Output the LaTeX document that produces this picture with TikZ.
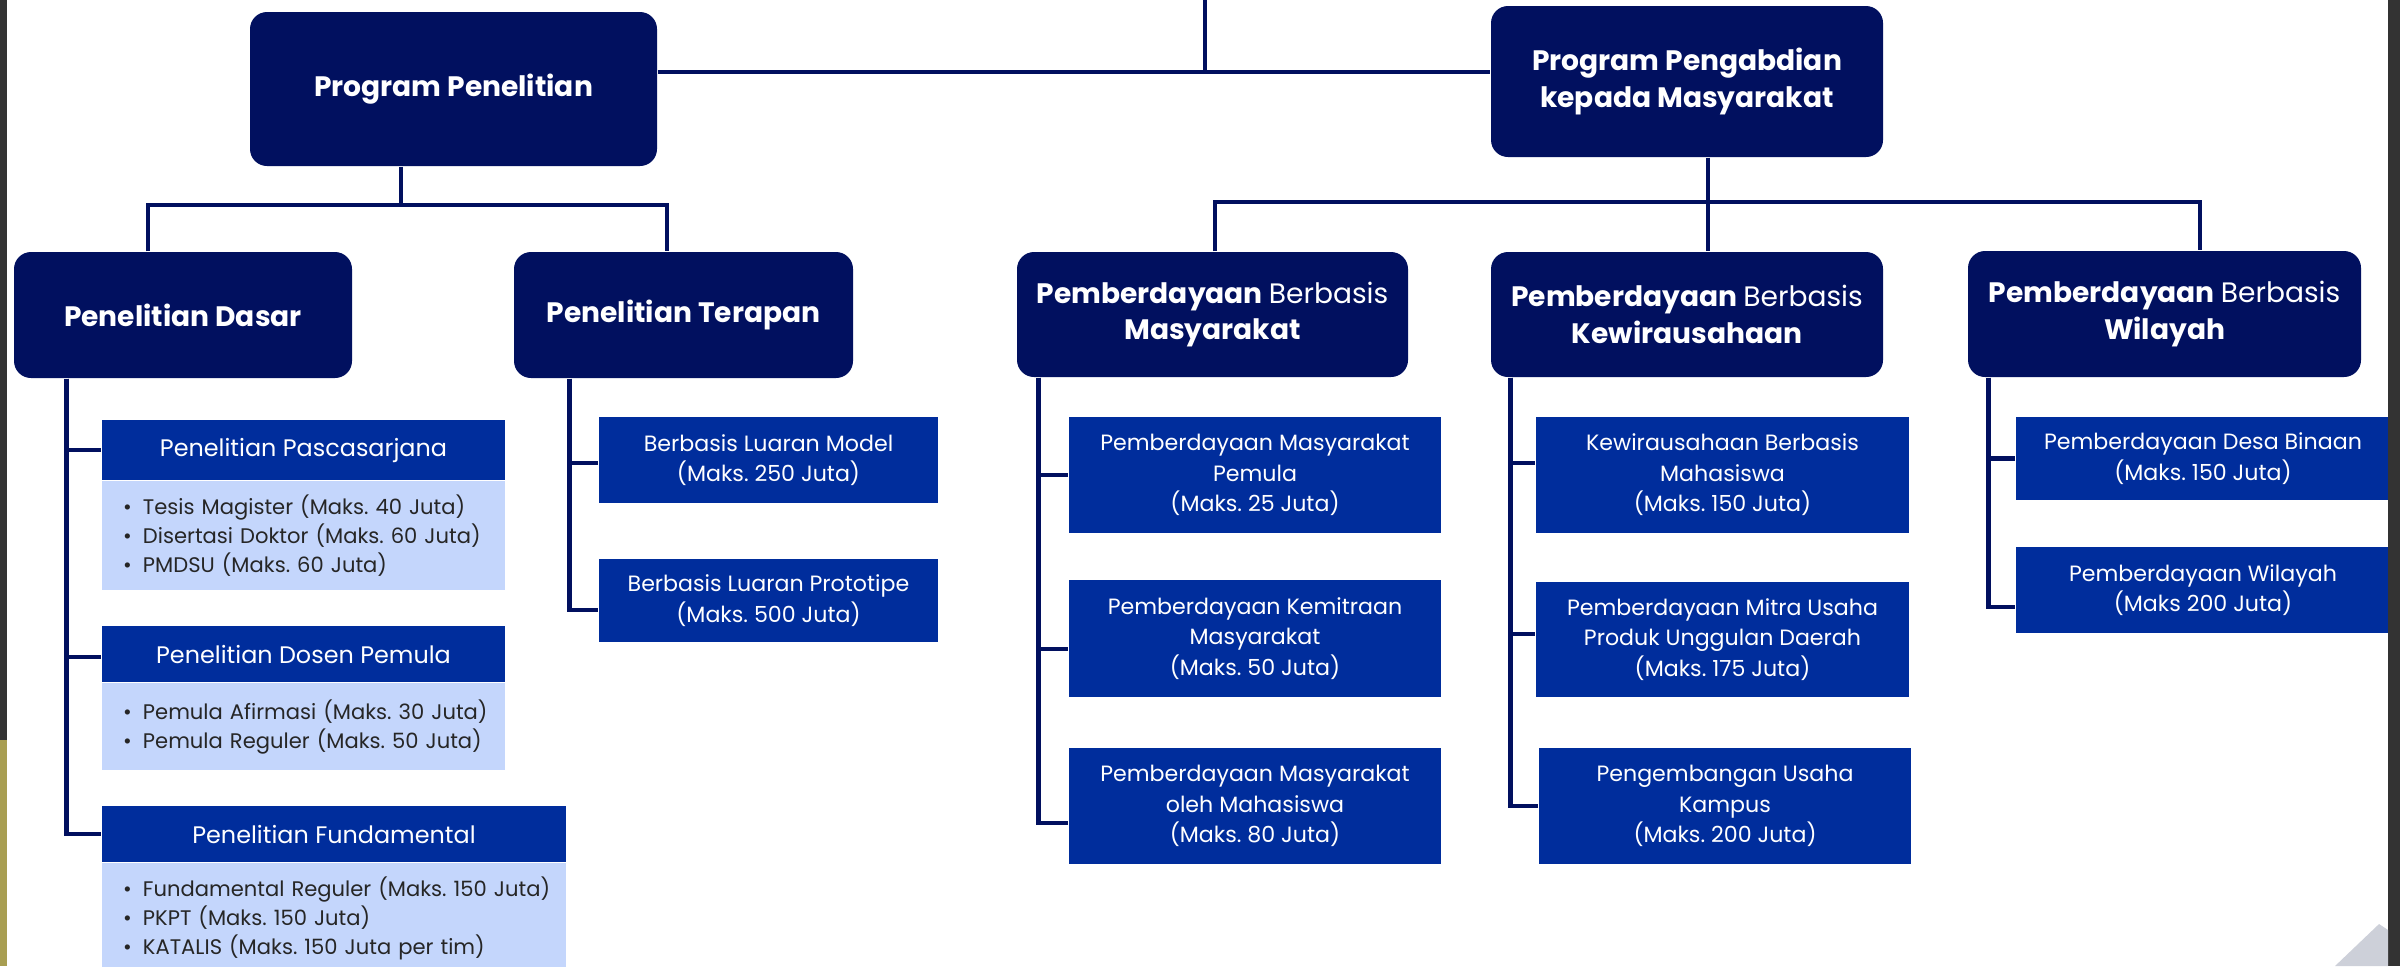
\documentclass[tikz,border=0pt]{standalone}
\usepackage{fontspec}
\setmainfont{Poppins}
\usetikzlibrary{positioning}

\definecolor{navy}{HTML}{01105F}
\definecolor{royal}{HTML}{002D9C}
\definecolor{pale}{HTML}{C4D6FC}
\definecolor{tepi}{HTML}{333333}
\definecolor{emas}{HTML}{A89E52}
\definecolor{abu}{HTML}{CDD0D9}

\frenchspacing
\newcommand{\butir}[1]{\mbox{\makebox[0.2cm][l]{\textbullet}#1}}

\begin{document}
\begin{tikzpicture}[
    every node/.style={inner sep=0pt}
  ]

  \tikzset{
    induk/.style={fill=navy, text=white, rounded corners=0.17cm, align=center, font=\fontsize{8}{10.5}\selectfont\bfseries},
    kotak/.style={fill=royal, text=white, align=center, font=\fontsize{6.3}{8.7}\selectfont},
    judul/.style={fill=royal, text=white, font=\fontsize{6.8}{8}\selectfont},
    isi/.style={fill=pale, text=black!85, align=left, inner xsep=0.21cm, font=\fontsize{6}{8.25}\selectfont},
    garis/.style={draw=navy, line width=1.3pt}
  }

  \useasboundingbox (0,0) rectangle (24,-9.66);

  % Program utama
  \node[induk, minimum width=4.07cm, minimum height=1.54cm] (PP) at (4.535,-0.89) {Program Penelitian};
  \node[induk, minimum width=3.92cm, minimum height=1.51cm] (PPkM) at (16.87,-0.815) {Program Pengabdian\\kepada Masyarakat};

  % Penelitian
  \node[induk, minimum width=3.38cm, minimum height=1.26cm] (PD) at (1.83,-3.15) {Penelitian Dasar};
  \node[induk, minimum width=3.39cm, minimum height=1.26cm] (PT) at (6.835,-3.15) {Penelitian Terapan};

  % Pengabdian
  \node[induk, minimum width=3.91cm, minimum height=1.25cm] (PBM) at (12.125,-3.145) {Pemberdayaan {\mdseries Berbasis}\\Masyarakat};
  \node[induk, minimum width=3.92cm, minimum height=1.25cm] (PBK) at (16.87,-3.145) {Pemberdayaan {\mdseries Berbasis}\\Kewirausahaan};
  \node[induk, minimum width=3.93cm, minimum height=1.26cm] (PBW) at (21.645,-3.14) {Pemberdayaan {\mdseries Berbasis}\\Wilayah};

  % Penelitian Dasar
  \node[judul, minimum width=4.03cm, minimum height=0.60cm] (pasca) at (3.035,-4.50) {Penelitian Pascasarjana};
  \node[isi, below=0pt of pasca, text width=3.61cm, minimum height=1.09cm] (pascaisi) {%
    \butir{Tesis Magister (Maks. 40 Juta)}\\
    \butir{Disertasi Doktor (Maks. 60 Juta)}\\
    \butir{PMDSU (Maks. 60 Juta)}};
  \node[judul, minimum width=4.03cm, minimum height=0.56cm] (dosen) at (3.035,-6.54) {Penelitian Dosen Pemula};
  \node[isi, below=0pt of dosen, text width=3.61cm, minimum height=0.87cm] (dosenisi) {%
    \butir{Pemula Afirmasi (Maks. 30 Juta)}\\
    \butir{Pemula Reguler (Maks. 50 Juta)}};
  \node[judul, minimum width=4.64cm, minimum height=0.56cm] (fund) at (3.34,-8.34) {Penelitian Fundamental};
  \node[isi, below=0pt of fund, text width=4.22cm, minimum height=1.09cm] (fundisi) {%
    \butir{Fundamental Reguler (Maks. 150 Juta)}\\
    \butir{PKPT (Maks. 150 Juta)}\\
    \butir{KATALIS (Maks. 150 Juta per tim)}};

  % Penelitian Terapan
  \node[kotak, minimum width=3.39cm, minimum height=0.86cm] (BLM) at (7.685,-4.60) {Berbasis Luaran Model\\(Maks. 250 Juta)};
  \node[kotak, minimum width=3.39cm, minimum height=0.83cm] (BLP) at (7.685,-6.005) {Berbasis Luaran Prototipe\\(Maks. 500 Juta)};

  % Berbasis Masyarakat
  \node[kotak, minimum width=3.72cm, minimum height=1.16cm] (PMP) at (12.55,-4.75) {Pemberdayaan Masyarakat\\Pemula\\(Maks. 25 Juta)};
  \node[kotak, minimum width=3.72cm, minimum height=1.17cm] (PKM) at (12.55,-6.385) {Pemberdayaan Kemitraan\\Masyarakat\\(Maks. 50 Juta)};
  \node[kotak, minimum width=3.72cm, minimum height=1.16cm] (PMoM) at (12.55,-8.06) {Pemberdayaan Masyarakat\\oleh Mahasiswa\\(Maks. 80 Juta)};

  % Berbasis Kewirausahaan
  \node[kotak, minimum width=3.73cm, minimum height=1.16cm] (KBM) at (17.225,-4.75) {Kewirausahaan Berbasis\\Mahasiswa\\(Maks. 150 Juta)};
  \node[kotak, minimum width=3.73cm, minimum height=1.15cm] (PMUPUD) at (17.225,-6.395) {Pemberdayaan Mitra Usaha\\Produk Unggulan Daerah\\(Maks. 175 Juta)};
  \node[kotak, minimum width=3.72cm, minimum height=1.16cm] (PUK) at (17.25,-8.06) {Pengembangan Usaha\\Kampus\\(Maks. 200 Juta)};

  % Berbasis Wilayah
  \node[kotak, minimum width=3.74cm, minimum height=0.83cm] (PDB) at (22.03,-4.585) {Pemberdayaan Desa Binaan\\(Maks. 150 Juta)};
  \node[kotak, minimum width=3.74cm, minimum height=0.86cm] (PW) at (22.03,-5.90) {Pemberdayaan Wilayah\\(Maks 200 Juta)};

  % garis atas
  \coordinate (puncak) at (12.05,0);
  \coordinate (simpul) at (12.05,-0.72);
  \draw[garis] (puncak) -- (simpul);
  \draw[garis] (PP.east |- simpul) -- (PPkM.west |- simpul);

  \coordinate (cabangA) at (4.01,-2.05);
  \coordinate (kiriA) at (1.48,-2.05);
  \coordinate (kananA) at (6.67,-2.05);
  \draw[garis] (PP.south -| cabangA) -- (cabangA);
  \draw[garis] (kiriA |- PD.north) -- (kiriA) -- (kananA) -- (kananA |- PT.north);

  \coordinate (cabangB) at (17.08,-2.02);
  \coordinate (kiriB) at (12.15,-2.02);
  \coordinate (kananB) at (22.00,-2.02);
  \draw[garis] (PPkM.south -| cabangB) -- (cabangB |- PBK.north);
  \draw[garis] (kiriB |- PBM.north) -- (kiriB) -- (kananB) -- (kananB |- PBW.north);

  % garis cabang
  \draw[garis] ([xshift=0.53cm]PD.south west) |- (pasca.west);
  \draw[garis] ([xshift=0.53cm]PD.south west) |- ([yshift=-0.03cm]dosen.west);
  \draw[garis] ([xshift=0.53cm]PD.south west) |- (fund.west);

  \draw[garis] ([xshift=0.56cm]PT.south west) |- ([yshift=-0.03cm]BLM.west);
  \draw[garis] ([xshift=0.56cm]PT.south west) |- ([yshift=-0.095cm]BLP.west);

  \draw[garis] ([xshift=0.22cm]PBM.south west) |- (PMP.west);
  \draw[garis] ([xshift=0.22cm]PBM.south west) |- ([yshift=-0.105cm]PKM.west);
  \draw[garis] ([xshift=0.22cm]PBM.south west) |- ([yshift=-0.17cm]PMoM.west);

  \draw[garis] ([xshift=0.20cm]PBK.south west) |- ([yshift=0.12cm]KBM.west);
  \draw[garis] ([xshift=0.20cm]PBK.south west) |- ([yshift=0.055cm]PMUPUD.west);
  \draw[garis] ([xshift=0.20cm]PBK.south west) |- (PUK.west);

  \draw[garis] ([xshift=0.21cm]PBW.south west) |- (PDB.west);
  \draw[garis] ([xshift=0.21cm]PBW.south west) |- ([yshift=-0.17cm]PW.west);

  % tepi layar
  \fill[tepi] (0,0) rectangle (0.07,-9.66);
  \fill[emas] (0,-7.4) rectangle (0.07,-9.66);
  \fill[tepi] (23.88,0) rectangle (24,-9.66);
  \fill[abu] (23.35,-9.66) -- (23.79,-9.24) -- (23.88,-9.3) -- (23.88,-9.66) -- cycle;

\end{tikzpicture}
\end{document}
